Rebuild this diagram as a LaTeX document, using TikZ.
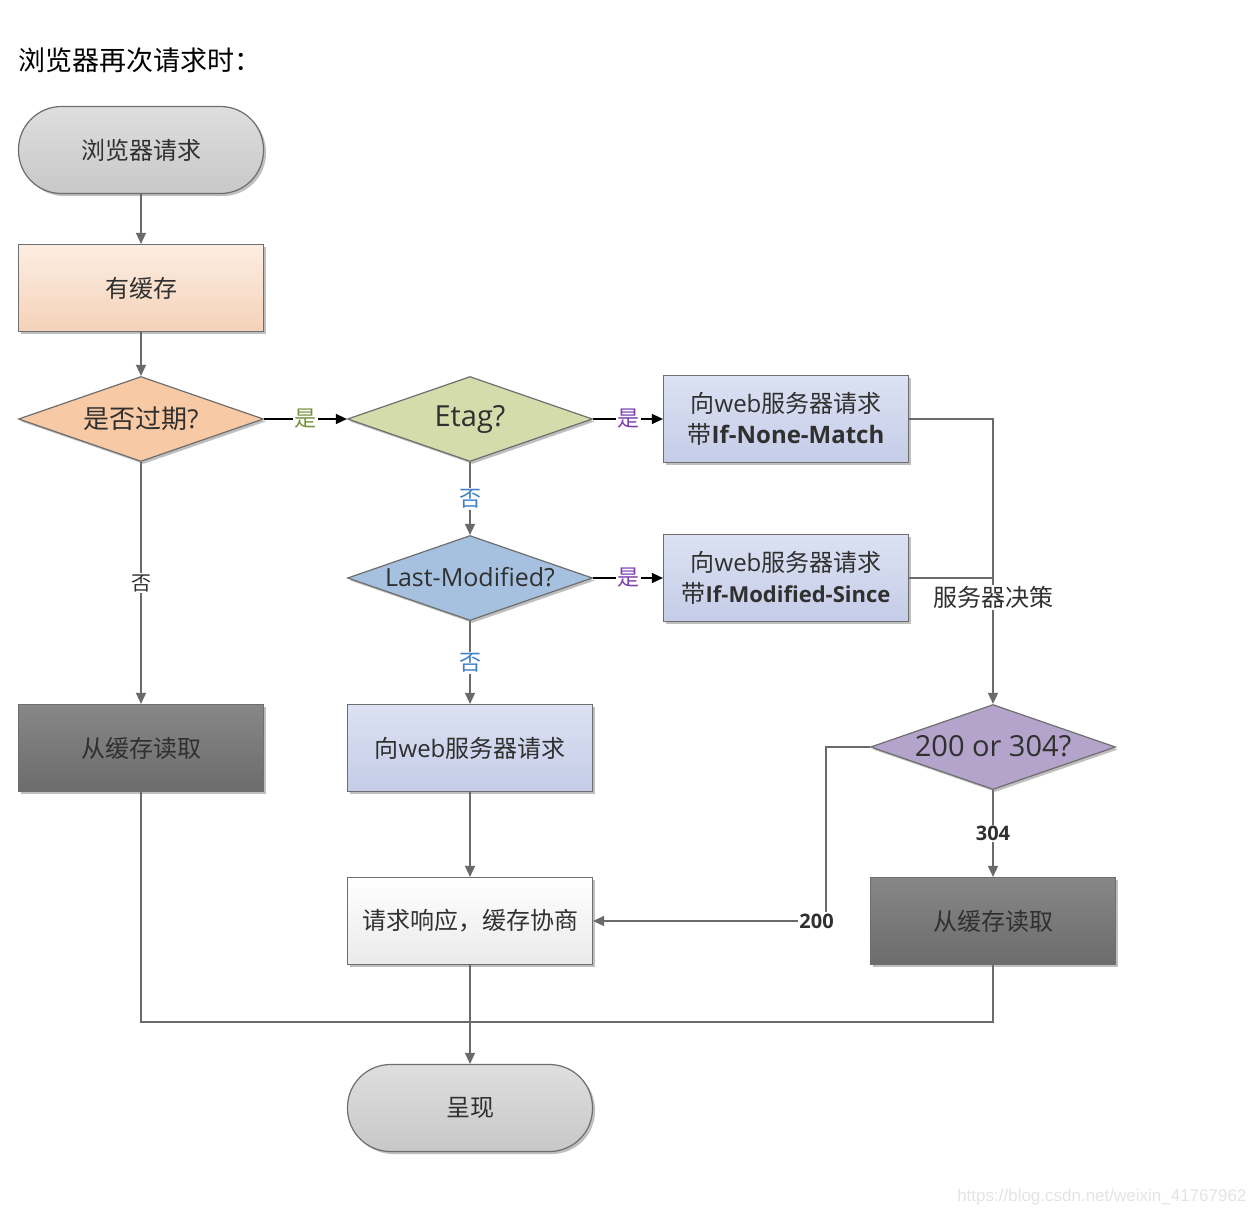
\documentclass[tikz,border=0pt]{standalone}
\usepackage{fontspec}
\setmainfont{Open Sans}
\newfontfamily\cjk{Noto Sans CJK SC}
\newfontfamily\lat{Open Sans}
\newfontfamily\wmfont{Liberation Sans}
\usetikzlibrary{shapes.geometric,arrows.meta,shadows}
\definecolor{linegray}{HTML}{6A6A6A}
\definecolor{bordergray}{HTML}{6E6E6E}
\definecolor{txt}{HTML}{303030}
\definecolor{pillTop}{HTML}{DEDEDE}
\definecolor{pillBot}{HTML}{C8C8C8}
\definecolor{peachTop}{HTML}{FCEDE2}
\definecolor{peachBot}{HTML}{F5D2B9}
\definecolor{orangeD}{HTML}{F7CAA5}
\definecolor{etagD}{HTML}{D4DCAC}
\definecolor{blueTop}{HTML}{DCE2F3}
\definecolor{blueBot}{HTML}{C4CCE7}
\definecolor{lmD}{HTML}{A6C1E0}
\definecolor{darkTop}{HTML}{878787}
\definecolor{darkBot}{HTML}{6C6C6C}
\definecolor{purpleD}{HTML}{B4A4CB}
\definecolor{respBot}{HTML}{EAEAEA}
\definecolor{lolive}{HTML}{76923C}
\definecolor{lpurple}{HTML}{7B3FAF}
\definecolor{lblue}{HTML}{3F7FC6}
\definecolor{wm}{HTML}{E4E4E4}
\newcommand{\fs}[1]{\fontsize{#1}{#1}\selectfont}
\begin{document}
\begin{tikzpicture}[x=1pt,y=-1pt,
  base/.style={draw=bordergray, line width=1.2pt, inner sep=0pt, text=txt,
    drop shadow={shadow xshift=2.5pt, shadow yshift=-2.5pt, opacity=0.25, fill=black}},
  boxnode/.style={base, rectangle, minimum width=245pt, minimum height=87pt,
    align=center, font=\cjk\fs{24}},
  pill/.style={boxnode, rounded corners=43pt, top color=pillTop, bottom color=pillBot},
  dia/.style={base, diamond, aspect=1, minimum width=245pt, minimum height=85pt},
  conn/.style={draw=linegray, line width=1.5pt},
  arr/.style={conn, -{Triangle[length=11pt,width=10pt]}},
  barr/.style={draw=black, line width=1.5pt, -{Triangle[length=11pt,width=10pt]}},
  lbl/.style={fill=white, inner sep=1.5pt, font=\cjk\fs{22}},
  blbl/.style={fill=white, inner sep=1.5pt, font=\lat\bfseries\fs{20}, text=txt}
]
\fill[white] (0,0) rectangle (1258,1216);
\useasboundingbox (0,0) rectangle (1258,1216);

\node[anchor=west, font=\cjk\fs{27}, text=black] (title) at (15,60) {浏览器再次请求时：};

\node[pill] (start) at (141,150) {浏览器请求};
\node[boxnode, top color=peachTop, bottom color=peachBot] (cache) at (141,288) {有缓存};
\node[dia, fill=orangeD] (exp) at (141,419) {\makebox[0pt]{\cjk\fs{26}是否过期\lat ?}};
\node[dia, fill=etagD] (etag) at (470,419) {\makebox[0pt]{\lat\fs{29}Etag?}};
\node[boxnode, top color=blueTop, bottom color=blueBot] (inm) at (786,419)
  {向{\lat web}服务器请求\\[7pt]带{\lat\bfseries If-None-Match}};
\node[dia, fill=lmD] (lm) at (470,578) {\makebox[0pt]{\raisebox{3pt}{\lat\fs{25}Last-Modified?}}};
\node[boxnode, top color=blueTop, bottom color=blueBot] (ims) at (786,578)
  {向{\lat web}服务器请求\\[7pt]带{\lat\bfseries\fs{22}If-Modified-Since}};
\node[boxnode, top color=darkTop, bottom color=darkBot] (lread) at (141,748) {从缓存读取};
\node[boxnode, top color=blueTop, bottom color=blueBot] (req) at (470,748) {向{\lat web}服务器请求};
\node[dia, fill=purpleD] (code) at (993,747) {\makebox[0pt]{\raisebox{2pt}{\lat\fs{29}200 or 304?}}};
\node[boxnode, top color=white, bottom color=respBot] (resp) at (470,921) {请求响应，缓存协商};
\node[boxnode, top color=darkTop, bottom color=darkBot] (rread) at (993,921) {从缓存读取};
\node[pill] (show) at (470,1108) {呈现};

\coordinate (merge) at (470,1022);

\draw[arr] (start) -- (cache);
\draw[arr] (cache) -- (exp);
\draw[barr] (exp) -- node[lbl, text=lolive] {是} (etag);
\draw[barr] (etag) -- node[lbl, text=lpurple] {是} (inm);
\draw[arr] (etag) -- node[lbl, text=lblue] {否} (lm);
\draw[barr] (lm) -- node[lbl, text=lpurple] {是} (ims);
\draw[arr] (lm) -- node[lbl, text=lblue] {否} (req);
\draw[arr] (exp) -- node[lbl, text=txt, font=\cjk\fs{20}] {否} (lread);
\draw[arr] (inm.east) -| node[pos=0.813, lbl, font=\cjk\fs{24}, text=txt] {服务器决策} (code.north);
\draw[conn] (ims.east) -- (ims.east -| code.north);
\draw[arr] (code) -- node[blbl] {304} (rread);
\draw[arr] (code.west) -- ++(-44,0) |- node[pos=0.52, blbl] {200} (resp.east);
\draw[arr] (req) -- (resp);
\draw[conn] (lread.south) |- (merge);
\draw[conn] (rread.south) |- (merge);
\draw[arr] (resp) -- (show);

\node[anchor=east, font=\wmfont\fs{17}, text=wm] (wmark) at (1250,1197) {https://blog.csdn.net/weixin\_41767962};
\end{tikzpicture}
\end{document}
